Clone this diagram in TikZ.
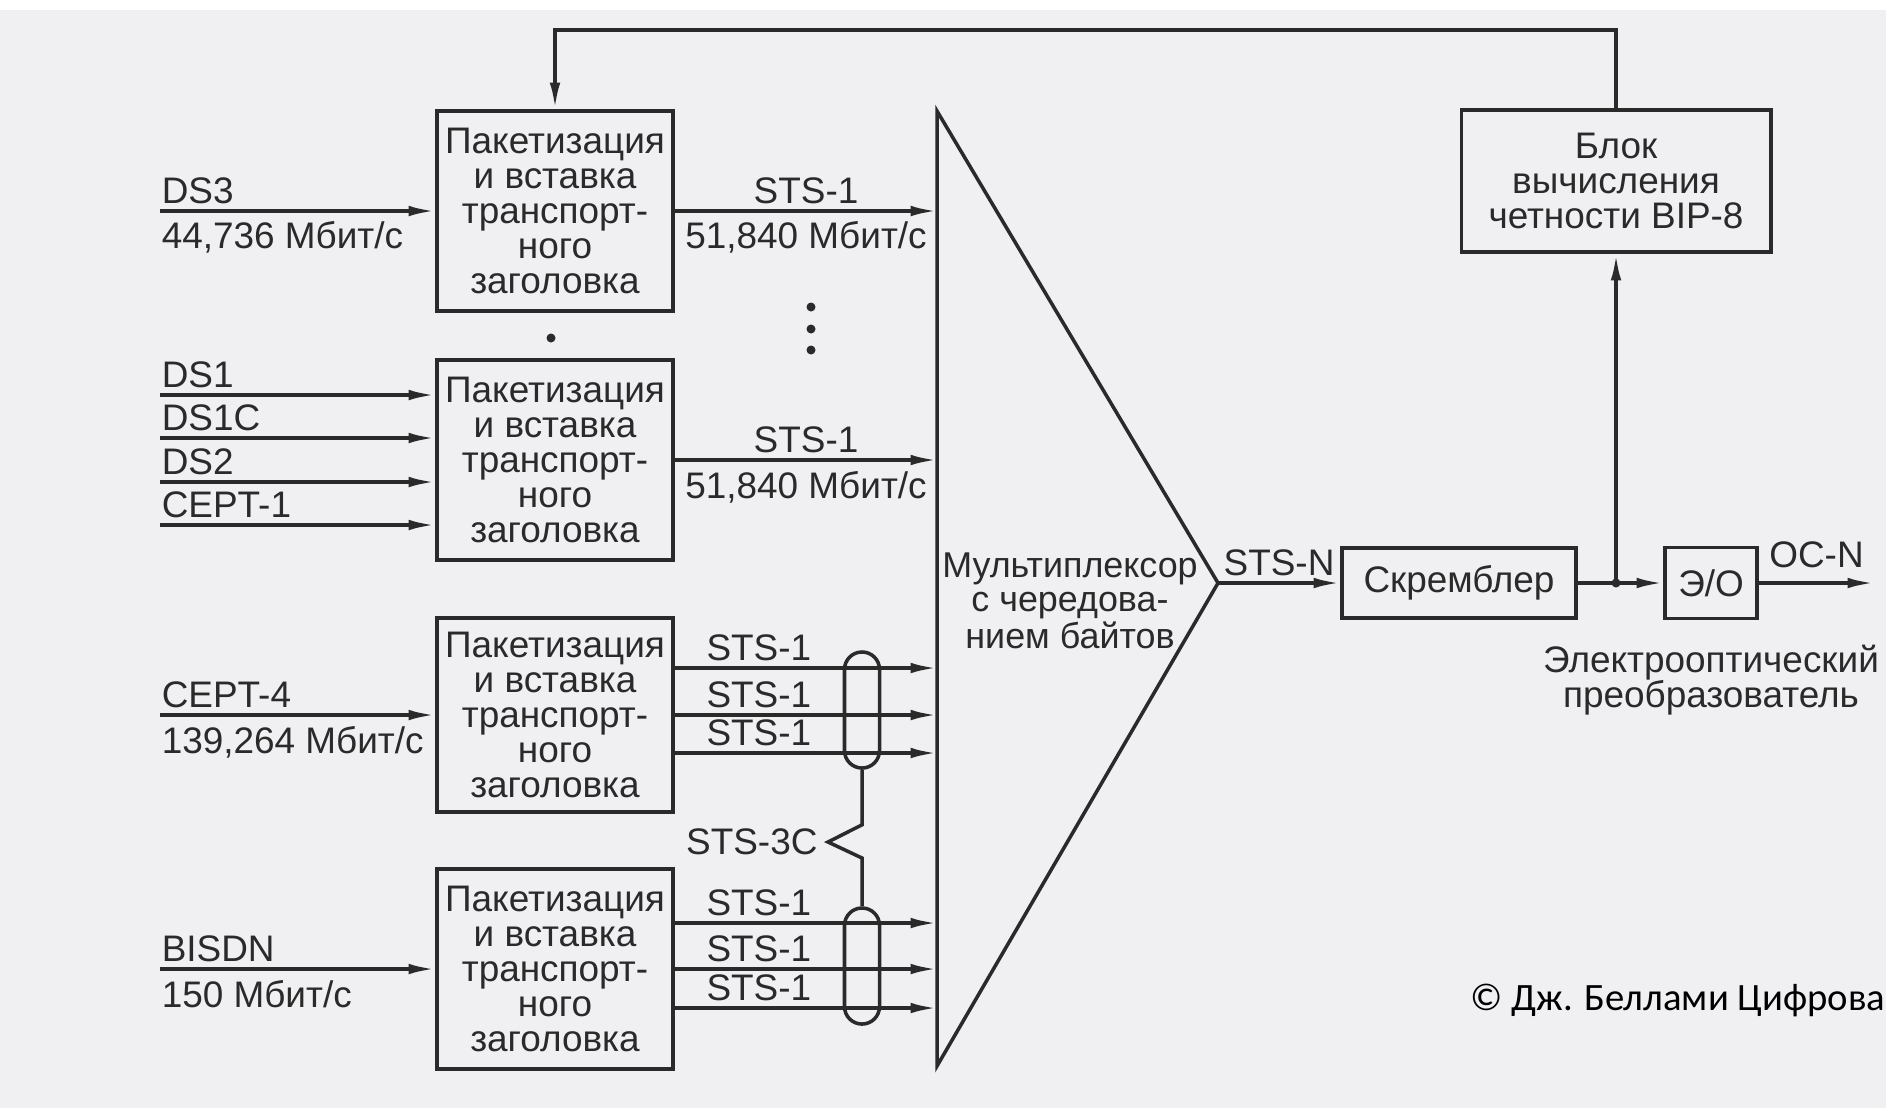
\documentclass[tikz,border=0pt]{standalone}
\usepackage{fontspec}
\setmainfont{Liberation Sans}
\newfontfamily\cprfont{Carlito}
\usepackage{tikz}
\usetikzlibrary{arrows.meta,positioning,calc}
\definecolor{ink}{HTML}{2A2A2A}
\definecolor{paper}{HTML}{F0EFF2}
\tikzset{
  pack/.style={draw=ink, line width=1.1pt, minimum width=2.36cm, minimum height=2cm,
    align=center, inner sep=0pt},
  unit/.style={draw=ink, line width=1.1pt, align=center, inner sep=0pt},
  sig/.style={->, line width=1pt, draw=ink},
  wire/.style={line width=1pt, draw=ink},
  ontop/.style={anchor=base, yshift=2pt, inner sep=0pt},
  ontopl/.style={anchor=base west, yshift=2pt, inner sep=0pt},
  under/.style={anchor=base, yshift=-10.8pt, inner sep=0pt},
  underl/.style={anchor=base west, yshift=-10.8pt, inner sep=0pt},
  bundle/.style={draw=ink, line width=1pt, minimum width=0.35cm, minimum height=1.16cm,
    rounded corners=0.175cm, inner sep=0pt}
}
\newcommand{\packtext}{Пакетизация\\и вставка\\транспорт-\\ного\\заголовка}

\begin{document}
\begin{tikzpicture}[x=0.01cm,y=-0.01cm,>={Latex[length=7.5pt,width=3pt]},
    font=\fontsize{10.5}{10}\selectfont,text=ink]
  \fill[paper] (0,0) rectangle (1886,1108);
  \fill[white] (0,0) rectangle (1886,10);
  \useasboundingbox (0,0) rectangle (1886,1108);

  \node[pack] (p1) at (555,211) {\packtext};
  \node[pack] (p2) at (555,460) {\packtext};
  \node[pack,minimum height=1.94cm] (p3) at (555,715) {\packtext};
  \node[pack] (p4) at (555,969) {\packtext};

  \coordinate (mt) at (937,111);
  \coordinate (mb) at (937,1066);
  \coordinate (mx) at (1218,583);
  \draw[wire] (mt) -- (mx) -- (mb) -- cycle;
  \node[align=center,inner sep=0pt,font=\fontsize{10.2}{9.6}\selectfont] (mxt) at (1070,601)
    {Мультиплексор\\с чередова-\\нием байтов};

  \draw[sig] ($(p1.west)+(-275,0)$) -- (p1.west)
    node[pos=0,ontopl] {DS3} node[pos=0,underl] {44,736 Мбит/с};
  \draw[sig] ($(p2.west)+(-275,-65)$) -- ($(p2.west)+(0,-65)$) node[pos=0,ontopl] {DS1};
  \draw[sig] ($(p2.west)+(-275,-22)$) -- ($(p2.west)+(0,-22)$) node[pos=0,ontopl] {DS1C};
  \draw[sig] ($(p2.west)+(-275,22)$) -- ($(p2.west)+(0,22)$) node[pos=0,ontopl] {DS2};
  \draw[sig] ($(p2.west)+(-275,65)$) -- ($(p2.west)+(0,65)$) node[pos=0,ontopl] {CEPT-1};
  \draw[sig] ($(p3.west)+(-275,0)$) -- (p3.west)
    node[pos=0,ontopl] {CEPT-4} node[pos=0,underl] {139,264 Мбит/с};
  \draw[sig] ($(p4.west)+(-275,0)$) -- (p4.west)
    node[pos=0,ontopl] {BISDN} node[pos=0,underl] {150 Мбит/с};

  \draw[sig] (p1.east) -- (p1.east -| mt)
    node[midway,ontop] {STS-1} node[midway,under] {51,840 Мбит/с};
  \draw[sig] (p2.east) -- (p2.east -| mt)
    node[midway,ontop] {STS-1} node[midway,under] {51,840 Мбит/с};
  \draw[sig] ($(p3.east)+(0,-47)$) -- ($(p3.east -| mt)+(0,-47)$) node[pos=0.32,ontop] {STS-1};
  \draw[sig] (p3.east) -- (p3.east -| mt) node[pos=0.32,ontop] {STS-1};
  \draw[sig] ($(p3.east)+(0,38)$) -- ($(p3.east -| mt)+(0,38)$) node[pos=0.32,ontop] {STS-1};
  \draw[sig] ($(p4.east)+(0,-46)$) -- ($(p4.east -| mt)+(0,-46)$) node[pos=0.32,ontop] {STS-1};
  \draw[sig] (p4.east) -- (p4.east -| mt) node[pos=0.32,ontop] {STS-1};
  \draw[sig] ($(p4.east)+(0,39)$) -- ($(p4.east -| mt)+(0,39)$) node[pos=0.32,ontop] {STS-1};

  \node[bundle] (o1) at (862,710) {};
  \node[bundle] (o2) at (862,966) {};
  \coordinate (zz) at (828,842);
  \draw[wire] (o1.south) -- ++(0,55) -- (zz) -- ++(34,16) -- (o2.north);
  \node[left=2.8pt of zz,inner sep=0pt] (s3c) {STS-3C};

  \fill[ink] ($(p1.south)+(-4,25)$) circle (0.045cm);
  \fill[ink] (811,307) circle (0.045cm);
  \fill[ink] (811,329) circle (0.045cm);
  \fill[ink] (811,350) circle (0.045cm);

  \node[unit,minimum width=2.34cm,minimum height=0.70cm] (scr) at (1459,583) {Скремблер};
  \node[unit,minimum width=0.92cm,minimum height=0.71cm] (eo) at (1711,583) {Э/О};
  \node[unit,minimum width=3.09cm,minimum height=1.42cm] (blok) at (1616,181)
    {Блок\\вычисления\\четности BIP-8};
  \coordinate (jn) at (blok.south |- scr.east);

  \draw[sig] (mx) -- (scr) node[midway,ontop] {STS-N};
  \draw[wire] (scr) -- (jn);
  \draw[sig] (jn) -- (eo);
  \draw[sig] (jn) -- (blok);
  \fill[ink] (jn) circle (0.045cm);
  \draw[sig] (eo.east) -- ++(115,0)
    node[midway,anchor=base,yshift=4.5pt,inner sep=0pt] {OC-N};
  \node[below=0.24cm of eo,align=center,inner sep=0pt] (eot)
    {Электрооптический\\преобразователь};
  \draw[sig] (blok.north) -- ++(0,-78) -| (p1.north);

  \node[anchor=base east,inner sep=0pt,text=black,font=\cprfont\fontsize{11}{13}\selectfont]
    (cr) at (1886,1010) {© Дж. Беллами Цифрова};
\end{tikzpicture}
\end{document}
